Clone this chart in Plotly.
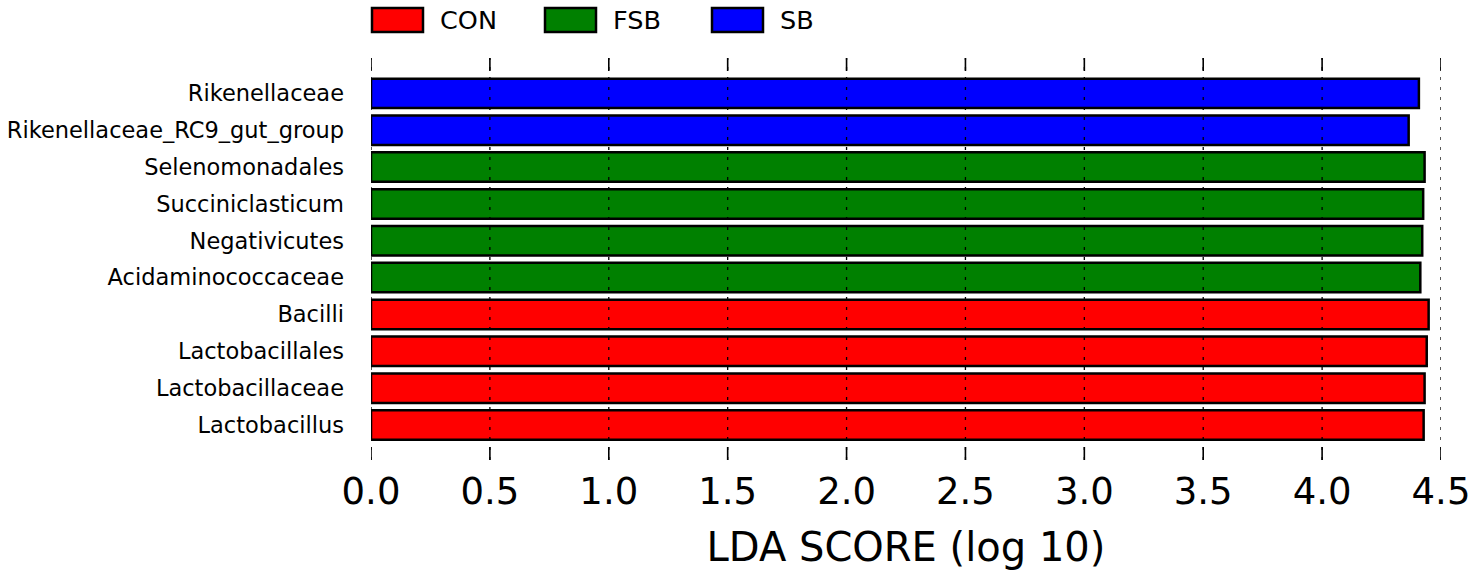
import plotly.graph_objects as go

# Data (top to bottom as in the chart)
features = ["Rikenellaceae", "Rikenellaceae_RC9_gut_group", "Selenomonadales",
            "Succiniclasticum", "Negativicutes", "Acidaminococcaceae",
            "Bacilli", "Lactobacillales", "Lactobacillaceae", "Lactobacillus"]
lda_scores = [4.407, 4.364, 4.431, 4.425, 4.421, 4.413, 4.448, 4.440, 4.431, 4.427]
groups = ["SB", "SB", "FSB", "FSB", "FSB", "FSB", "CON", "CON", "CON", "CON"]
group_order = ["CON", "FSB", "SB"]
group_colors = {"CON": "#FF0000", "FSB": "#008000", "SB": "#0000FF"}
x_ticks = [0.0, 0.5, 1.0, 1.5, 2.0, 2.5, 3.0, 3.5, 4.0, 4.5]

n = len(features)
ypos = [n - 1 - i for i in range(n)]

PL, PR, PT, PB = 371, 1441, 58, 460
PW, PH = PR - PL, PB - PT

fig = go.Figure()
for g in group_order:
    idx = [i for i in range(n) if groups[i] == g]
    fig.add_trace(go.Bar(
        x=[lda_scores[i] for i in idx],
        y=[ypos[i] for i in idx],
        orientation="h",
        width=0.8,
        marker=dict(color=group_colors[g], line=dict(color="black", width=2.5)),
        name=g,
        showlegend=False,
    ))

# dashed grid lines drawn above the bars, plus solid tick marks top and bottom
tick_frac = 13 / PH
for t in x_ticks:
    fig.add_shape(type="line", xref="x", yref="paper", x0=t, x1=t, y0=0, y1=1,
                  line=dict(color="black", width=1.3, dash="3px,7px"), layer="above")
    fig.add_shape(type="line", xref="x", yref="paper", x0=t, x1=t, y0=0, y1=tick_frac,
                  line=dict(color="black", width=1.6), layer="above")
    fig.add_shape(type="line", xref="x", yref="paper", x0=t, x1=t, y0=1 - tick_frac, y1=1,
                  line=dict(color="black", width=1.6), layer="above")

# manual legend at top
leg_x = [372, 545, 712]
for k, g in enumerate(group_order):
    fig.add_shape(type="rect", xref="paper", yref="paper",
                  x0=(leg_x[k] - PL) / PW, x1=(leg_x[k] - PL + 51) / PW,
                  y0=(PB - 32) / PH, y1=(PB - 8) / PH,
                  fillcolor=group_colors[g], line=dict(color="black", width=2.5))
    fig.add_annotation(xref="paper", yref="paper",
                       x=(leg_x[k] - PL + 66) / PW, y=(PB - 20) / PH,
                       text=g, showarrow=False, xanchor="left", yanchor="middle",
                       font=dict(size=25.5, color="black", family="DejaVu Sans"))

fig.update_layout(
    width=1477, height=572,
    margin=dict(l=PL, r=1477 - PR, t=PT, b=572 - PB, autoexpand=False),
    plot_bgcolor="white", paper_bgcolor="white",
    font=dict(family="DejaVu Sans", color="black"),
    bargap=0.2,
    xaxis=dict(
        range=[0, 4.5], tickvals=x_ticks,
        ticktext=[f"{t:.1f}" for t in x_ticks],
        showgrid=False, zeroline=False, showline=False,
        ticks="", automargin=False,
        tickfont=dict(size=37, family="DejaVu Sans"),
        ticklabelstandoff=6,
        title=dict(text="LDA SCORE (log 10)", font=dict(size=40, family="DejaVu Sans"),
                   standoff=20),
    ),
    yaxis=dict(
        range=[-0.95, n - 1 + 0.96],
        tickvals=ypos, ticktext=features,
        showgrid=False, zeroline=False, showline=False, ticks="",
        automargin=False,
        tickfont=dict(size=22.5, family="DejaVu Sans"),
        ticklabelstandoff=26,
    ),
)

fig.write_html("out.html", config={"displayModeBar": False},
               post_script="document.body.style.margin='0';document.body.style.padding='0';")
